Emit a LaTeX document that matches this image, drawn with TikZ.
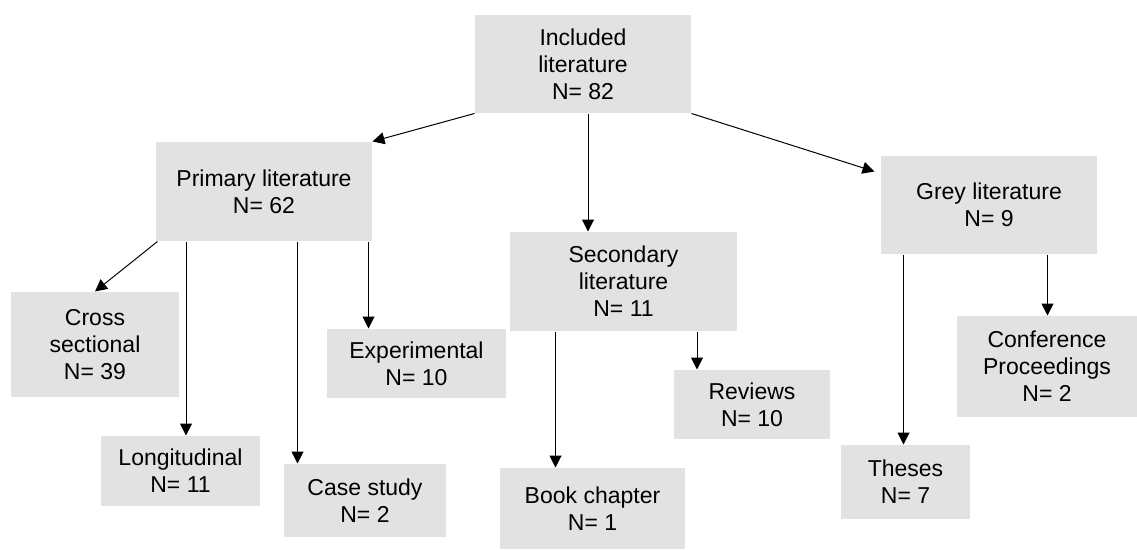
\documentclass[tikz,border=0pt]{standalone}
\usepackage{fontspec}
\setmainfont{Liberation Sans}
\usetikzlibrary{arrows.meta}
\definecolor{boxgray}{RGB}{226,226,226}
\begin{document}
\begin{tikzpicture}[x=1pt, y=-1pt, line width=1pt, >={Triangle[width=12pt,length=12pt]},
		box/.style = {fill=boxgray, inner sep=0pt, align=center, font=\fontsize{23}{27}\selectfont}]
		\useasboundingbox (0,0) rectangle (1137,549);
		\node[box, minimum width=216, minimum height=98] (incl) at (583,64) {Included\\literature\\N= 82};
		\node[box, minimum width=216, minimum height=99] (prim) at (264,191.5) {Primary literature\\N= 62};
		\node[box, minimum width=227, minimum height=99] (sec) at (623.5,281.5) {Secondary\\literature\\N= 11};
		\node[box, minimum width=216, minimum height=98] (grey) at (989,205) {Grey literature\\N= 9};
		\node[box, minimum width=168, minimum height=105] (cross) at (95,344.5) {Cross\\sectional\\N= 39};
		\node[box, minimum width=159, minimum height=70] (longi) at (180.5,471) {Longitudinal\\N= 11};
		\node[box, minimum width=162, minimum height=73] (case) at (365,500.5) {Case study\\N= 2};
		\node[box, minimum width=179, minimum height=69] (exper) at (416.5,363.5) {Experimental\\N= 10};
		\node[box, minimum width=156, minimum height=69] (rev) at (752,404.5) {Reviews\\N= 10};
		\node[box, minimum width=185, minimum height=81] (book) at (592.5,508.5) {Book chapter\\N= 1};
		\node[box, minimum width=129, minimum height=74] (thes) at (905.5,482) {Theses\\N= 7};
		\node[box, minimum width=180, minimum height=101] (conf) at (1047,366.5) {Conference\\Proceedings\\N= 2};
		\draw[->] (incl.south west) to (prim.north east);
		\draw[->] ([xshift=5]incl.south) to ([xshift=5]incl.south |- sec.north);
		\draw[->] (incl.south east) to ([xshift=-6,yshift=-16]grey.north west);
		\draw[->] ([xshift=2]prim.south west) to (cross.north);
		\draw[->] ([xshift=30.5]prim.south west) to ([xshift=30.5]prim.south west |- longi.north);
		\draw[->] ([xshift=142]prim.south west) to ([xshift=142]prim.south west |- case.north);
		\draw[->] ([xshift=213]prim.south west) to ([xshift=213]prim.south west |- exper.north);
		\draw[->] ([xshift=46]sec.south west) to ([xshift=46]sec.south west |- book.north);
		\draw[->] ([xshift=187.5]sec.south west) to ([xshift=187.5]sec.south west |- rev.north);
		\draw[->] ([xshift=23]grey.south west) to ([xshift=23]grey.south west |- thes.north);
		\draw[->] ([xshift=167]grey.south west) to ([xshift=167]grey.south west |- conf.north);

	\end{tikzpicture}
\end{document}
